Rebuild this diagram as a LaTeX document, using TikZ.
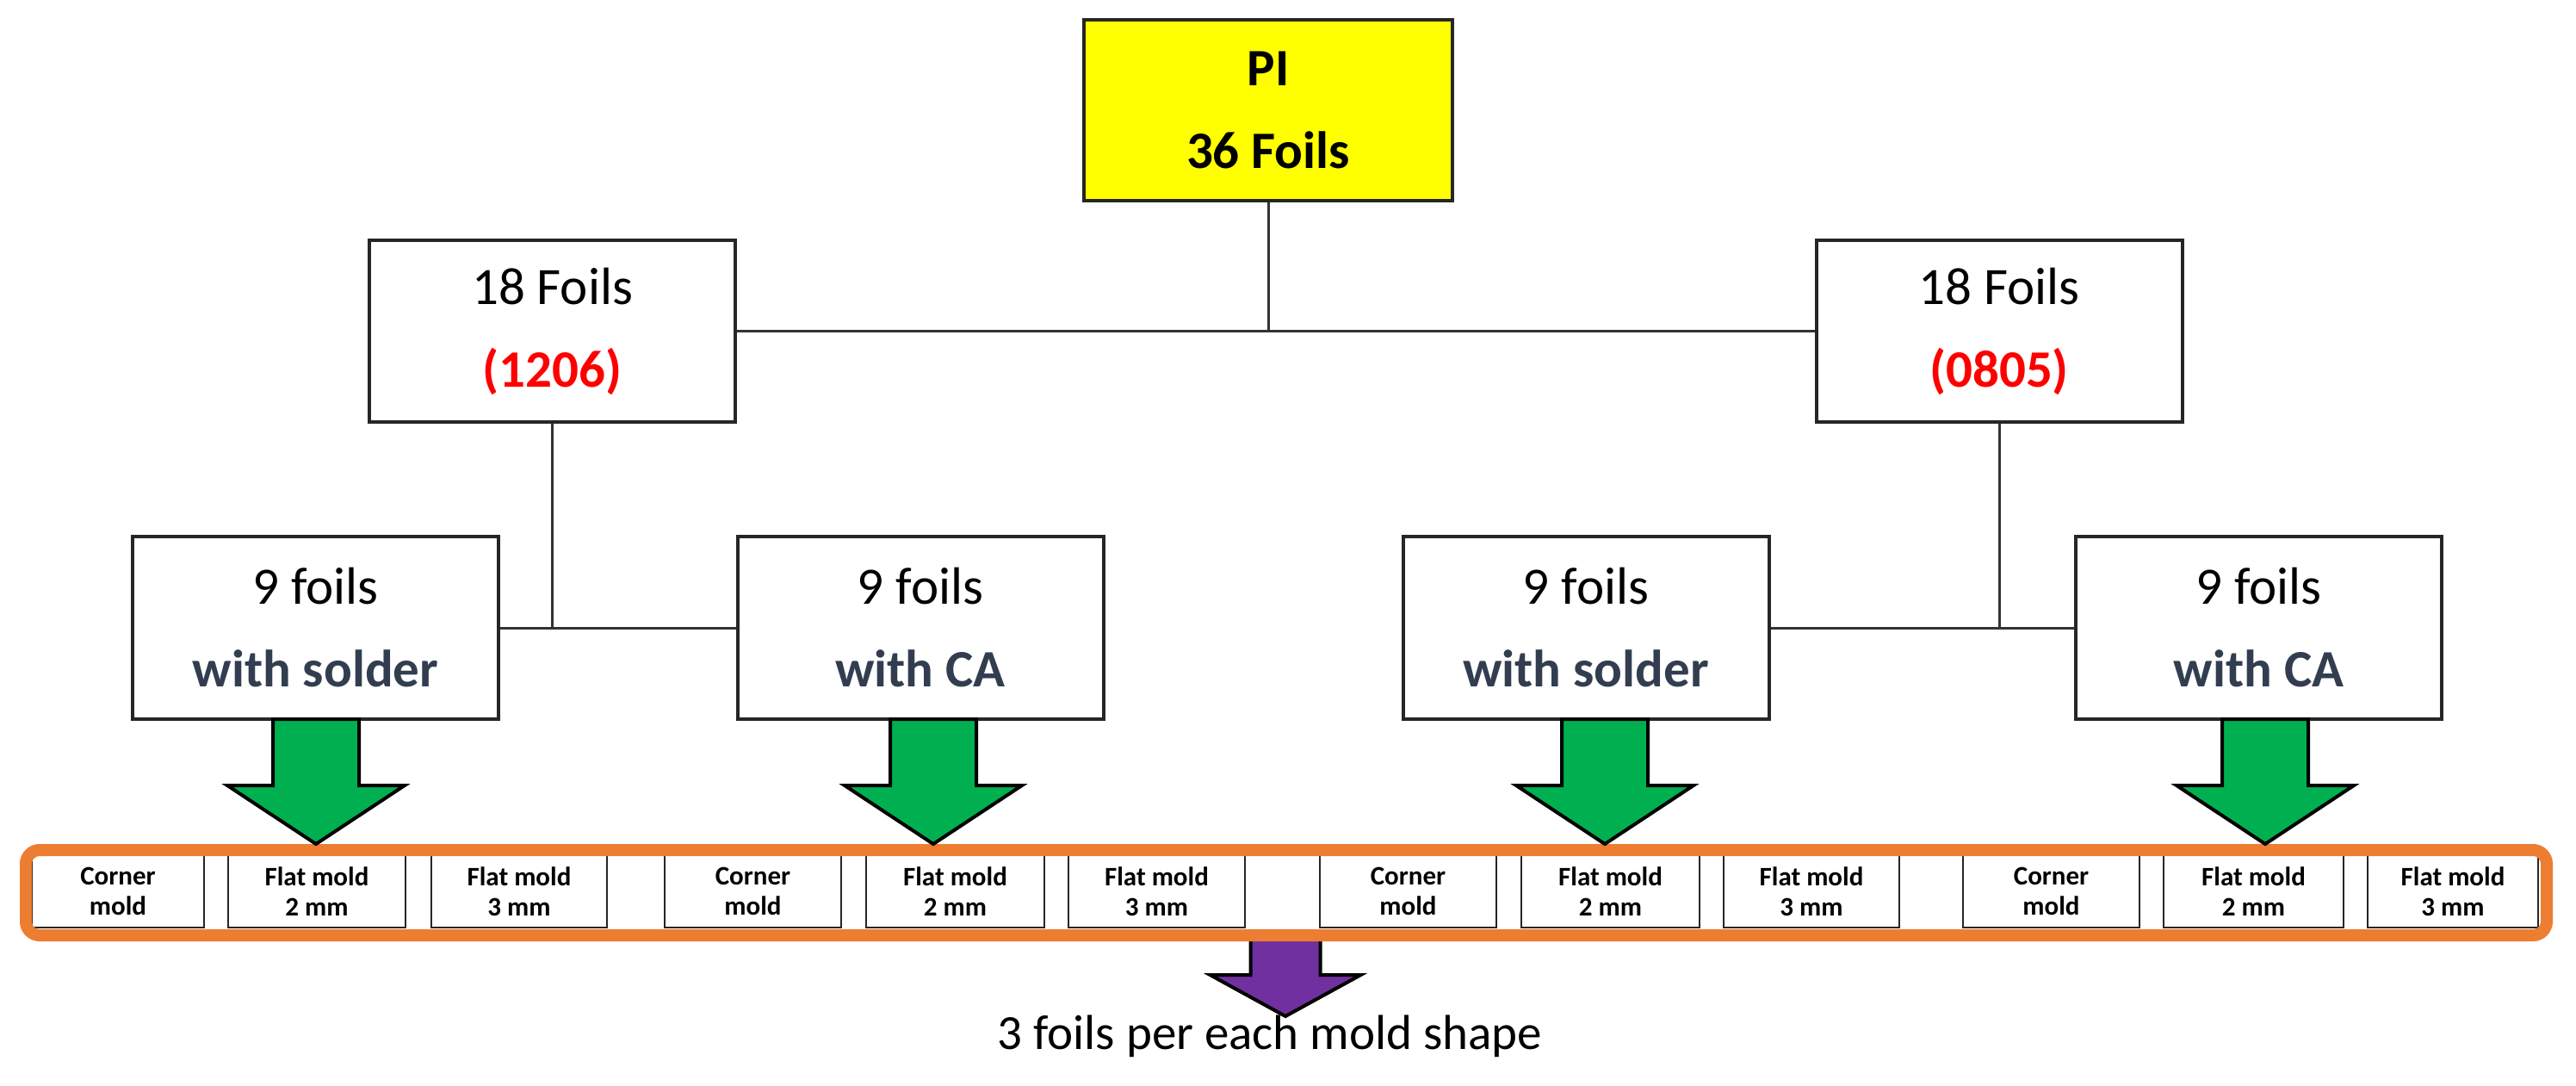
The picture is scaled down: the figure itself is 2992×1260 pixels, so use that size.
\documentclass[tikz,border=0pt]{standalone}
\usepackage{fontspec}
\setmainfont{Carlito}
\definecolor{pigreen}{HTML}{00B050}
\definecolor{pipurple}{HTML}{7030A0}
\definecolor{piorange}{HTML}{ED7D31}
\definecolor{piyellow}{HTML}{FFFF00}
\definecolor{pislate}{RGB}{50,62,80}
\definecolor{pired}{HTML}{FF0000}
\begin{document}
\begin{tikzpicture}[x=0.5pt,y=-0.5pt,
  box/.style={draw=black!85, line width=2pt, fill=white, inner sep=0pt, align=center,
    minimum width=212.5pt, minimum height=105.5pt,
    font=\fontsize{30.5pt}{48pt}\selectfont},
  conn/.style={draw=black!80, line width=1.5pt},
  mold/.style={draw=black!85, line width=1pt, fill=white, inner sep=0pt, align=center,
    minimum height=42pt, font=\bfseries\fontsize{15.5pt}{17.5pt}\selectfont},
  garrow/.style={draw=black, line width=2pt, fill=pigreen, line join=miter},
  parrow/.style={draw=black, line width=2pt, fill=pipurple, line join=miter},
  bandstyle/.style={minimum width=1464pt, minimum height=49.5pt, rounded corners=8pt, inner sep=0pt},
]
\useasboundingbox (0,0) rectangle (2992,1260);

% top box
\node[box, fill=piyellow, minimum width=214pt, minimum height=105pt, font=\bfseries\fontsize{30.5pt}{48pt}\selectfont]
  (pi) at (1473,128) {PI\\36 Foils};

% second level
\node[box] (l18) at (641.5,384.5) {18 Foils\\\textcolor{pired}{\bfseries (1206)}};
\node[box] (r18) at (2322,384.5) {18 Foils\\\textcolor{pired}{\bfseries (0805)}};

% third level
\node[box, minimum height=106pt] (l9s) at (366.5,729) {9 foils\\\textcolor{pislate}{\bfseries with solder}};
\node[box, minimum height=106pt] (l9c) at (1069,729) {9 foils\\\textcolor{pislate}{\bfseries with CA}};
\node[box, minimum height=106pt] (r9s) at (1842,729) {9 foils\\\textcolor{pislate}{\bfseries with solder}};
\node[box, minimum height=106pt] (r9c) at (2623.5,729) {9 foils\\\textcolor{pislate}{\bfseries with CA}};

% connectors
\draw[conn] (l18.east) -- (r18.west);
\draw[conn] (pi.south) -- (pi.south |- l18.east);
\draw[conn] (l9s.east) -- (l9c.west);
\draw[conn] (l18.south) -- (l18.south |- l9s.east);
\draw[conn] (r9s.east) -- (r9c.west);
\draw[conn] (r18.south) -- (r18.south |- r9s.east);

% purple arrow (behind band)
\draw[parrow] (1452.5,1082) -- (1533.5,1082) -- (1533.5,1132) -- (1580.5,1132) -- (1493,1180)
  -- (1405.5,1132) -- (1452.5,1132) -- cycle;

% band background
\node[bandstyle, fill=white] (bandbg) at (1494,1036.5) {};

% mold boxes
\foreach \a/\b/\t [count=\i] in {
  37/237/{Corner\\mold}, 265/471/{Flat mold\\2 mm}, 501/705/{Flat mold\\3 mm},
  772/977/{Corner\\mold}, 1006/1213/{Flat mold\\2 mm}, 1241/1446/{Flat mold\\3 mm},
  1533/1738/{Corner\\mold}, 1767/1974/{Flat mold\\2 mm}, 2002/2206/{Flat mold\\3 mm},
  2280/2485/{Corner\\mold}, 2513/2722/{Flat mold\\2 mm}, 2750/2948/{Flat mold\\3 mm}}{
  \node[mold, minimum width={(\b-\a)*0.5pt}] (m\i) at ({(\a+\b)/2},1035) {\t};
}

% orange band outline
\node[bandstyle, draw=piorange, line width=7pt] (band) at (1494,1036.5) {};

% green arrows
\foreach \cx in {367,1084,1864,2631}{
  \draw[garrow] (\cx-50,835) -- (\cx+50,835) -- (\cx+50,912) -- (\cx+103,912) -- (\cx,980)
    -- (\cx-103,912) -- (\cx-50,912) -- cycle;
}

% bottom label
\node[anchor=base, inner sep=0pt, font=\fontsize{28.5pt}{34pt}\selectfont] (note) at (1475,1218)
  {3 foils per each mold shape};
\end{tikzpicture}
\end{document}
